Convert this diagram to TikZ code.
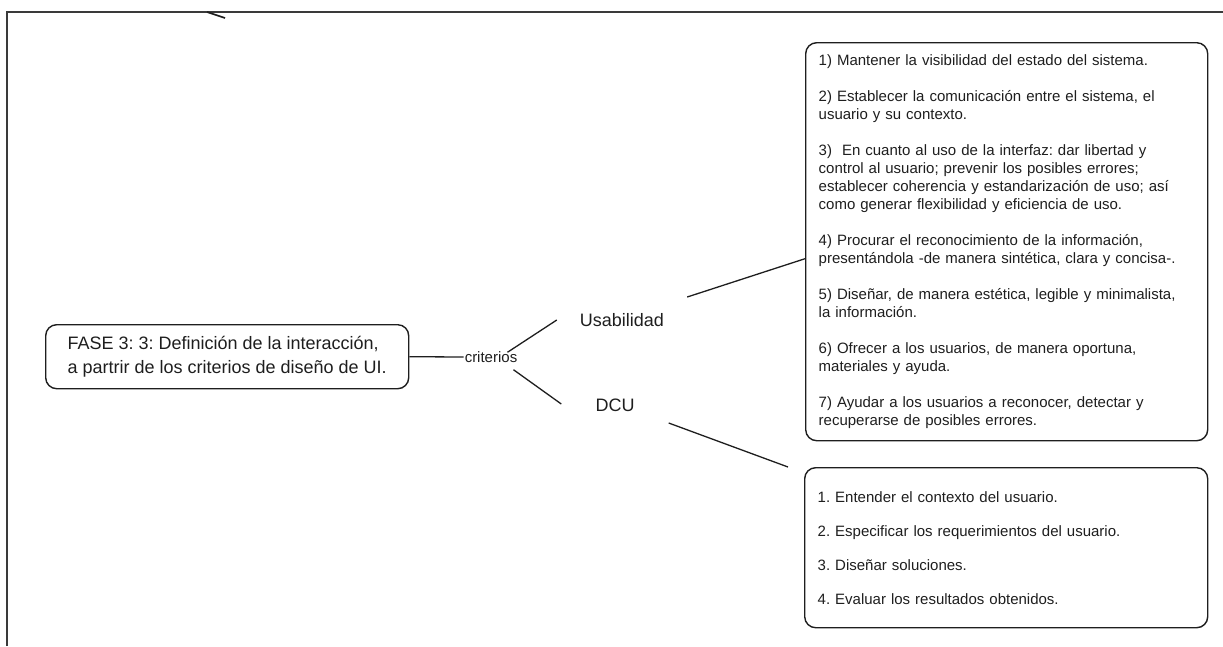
\documentclass[tikz,border=0pt]{standalone}
\usepackage{fontspec}
\setmainfont{Liberation Sans}
\usetikzlibrary{calc}
\frenchspacing
\definecolor{ink}{HTML}{1E1E1E}
\definecolor{rule}{HTML}{3A3A3A}
\tikzset{
  box/.style={draw=ink, line width=1.4pt, rounded corners=11pt, align=left,
    text=ink, inner ysep=0pt, anchor=north west},
  topic/.style={text=ink, inner sep=0pt, font=\fontsize{18}{21}\selectfont},
  link/.style={draw=ink, line width=1.3pt},
  frame/.style={draw=rule, line width=1.6pt}
}
\begin{document}
\begin{tikzpicture}[x=1pt, y=-1pt]
\useasboundingbox (0,0) rectangle (1223,646);

% page frame and the stray stroke at its top edge
\draw[frame] (7,646) -- (7,12) -- (1223,12);
\draw[link, line width=1.6pt] (207,12) -- (225,18);

% central topic
\node[box, inner xsep=14pt, minimum width=363pt, minimum height=64pt,
      font=\fontsize{18}{24}\selectfont] (fase) at (45,324)
  {FASE 3: 3: Definición de la interacción,\\
   a partrir de los criterios de diseño de UI.};

% relation label and the two branches
\node[topic, font=\fontsize{15}{18}\selectfont, inner xsep=1pt] (crit) at (491,357) {criterios};
\node[topic] (usa) at (622,320) {Usabilidad};
\node[topic] (dcu) at (615,405) {DCU};

% usability heuristics
\node[box, text width=376pt, inner xsep=13pt, minimum height=398pt,
      font=\fontsize{15}{18}\selectfont] (ubox) at (805,42)
  {1) Mantener la visibilidad del estado del sistema.\\[18pt]
   2) Establecer la comunicación entre el sistema, el\\
   usuario y su contexto.\\[18pt]
   3)~ En cuanto al uso de la interfaz: dar libertad y\\
   control al usuario; prevenir los posibles errores;\\
   establecer coherencia y estandarización de uso; así\\
   como generar flexibilidad y eficiencia de uso.\\[18pt]
   4) Procurar el reconocimiento de la información,\\
   presentándola -de manera sintética, clara y concisa-.\\[18pt]
   5) Diseñar, de manera estética, legible y minimalista,\\
   la información.\\[18pt]
   6) Ofrecer a los usuarios, de manera oportuna,\\
   materiales y ayuda.\\[18pt]
   7) Ayudar a los usuarios a reconocer, detectar y\\
   recuperarse de posibles errores.};

% user-centred design steps
\node[box, text width=377pt, inner xsep=13pt, minimum height=160pt,
      font=\fontsize{15}{18}\selectfont] (dbox) at (804,467)
  {1. Entender el contexto del usuario.\\[16pt]
   2. Especificar los requerimientos del usuario.\\[16pt]
   3. Diseñar soluciones.\\[16pt]
   4. Evaluar los resultados obtenidos.};

% connectors
\draw[link] (fase.east) -- (crit.west);
\draw[link] ($(crit.north east)+(-11,1)$) -- ($(usa.west)+(-23,0)$);
\draw[link] ($(crit.south east)+(-5,7)$) -- ($(dcu.west)+(-34,-1)$);
\draw[link] ($(usa.east)+(23,-23)$) -- ($(ubox.west)+(0,17)$);
\draw[link] ($(dcu.east)+(34,18)$) -- ($(dbox.north west)+(-16,0)$);
\end{tikzpicture}
\end{document}
